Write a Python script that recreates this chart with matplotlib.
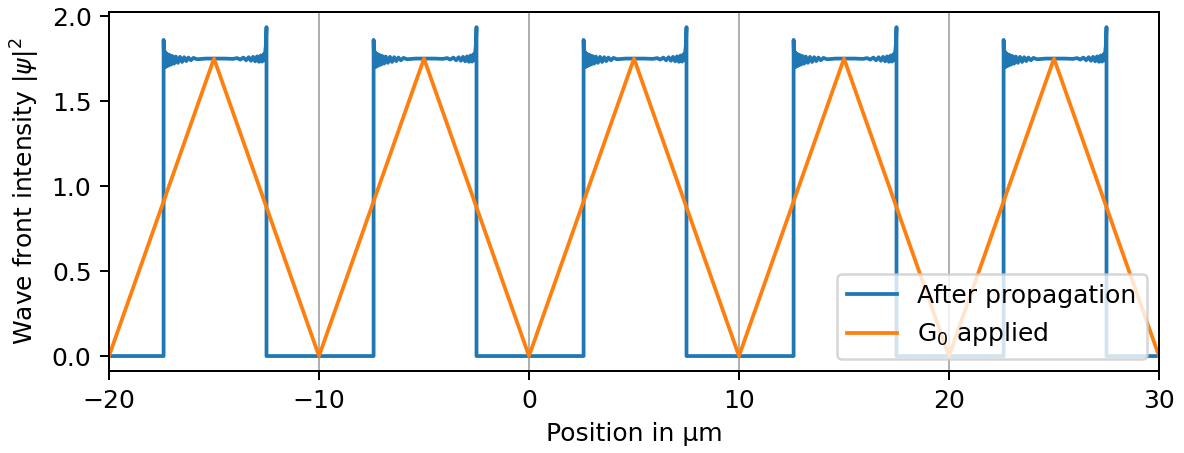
import numpy as np
import matplotlib
matplotlib.use("Agg")
import matplotlib.pyplot as plt

# grating edges (um) of the propagated intensity
rise_edges = [-17.4, -7.4, 2.6, 12.6, 22.6]
fall_edges = [-12.5, -2.5, 7.5, 17.5, 27.5]

# intensity profile near the rising edge (offsets from the edge), fast ringing
left_dx = [0.0, 0.0, 0.03, 0.06, 0.09, 0.12, 0.16, 0.20, 0.25, 0.30, 0.36, 0.42, 0.50, 0.58,
           0.68, 0.78, 0.88, 0.98, 1.08, 1.18, 1.30, 1.42, 1.60, 2.00]
left_y = [0.0, 1.86, 1.70, 1.79, 1.70, 1.78, 1.705, 1.775, 1.71, 1.77, 1.715, 1.765, 1.72, 1.762,
          1.725, 1.76, 1.73, 1.758, 1.735, 1.756, 1.74, 1.754, 1.746, 1.75]

# intensity profile near the falling edge (offsets from the edge)
right_dx = [-2.00, -1.60, -1.40, -1.25, -1.10, -0.97, -0.85, -0.74, -0.64, -0.54, -0.45, -0.36,
            -0.28, -0.21, -0.15, -0.10, -0.06, -0.03, 0.0, 0.0]
right_y = [1.75, 1.748, 1.753, 1.744, 1.756, 1.74, 1.758, 1.737, 1.76, 1.734, 1.763, 1.731,
           1.768, 1.732, 1.775, 1.74, 1.79, 1.83, 1.935, 0.0]

# triangular G0 profile
g0_x = [-20, -15, -10, -5, 0, 5, 10, 15, 20, 25, 30]
g0_y = [0, 1.75, 0, 1.75, 0, 1.75, 0, 1.75, 0, 1.75, 0]

xs = [-20.0]
ys = [0.0]
for r, f in zip(rise_edges, fall_edges):
    xs += [r + d for d in left_dx] + [f + d for d in right_dx]
    ys += left_y + right_y
xs.append(30.0)
ys.append(0.0)

dpi = 180
fig = plt.figure(figsize=(1184 / dpi, 453 / dpi), dpi=dpi)
ax = fig.add_axes([109 / 1184, 1 - 371 / 453, 1050 / 1184, 359 / 453])

ax.plot(xs, ys, color="tab:blue", lw=1.5, label="After propagation")
ax.plot(g0_x, g0_y, color="tab:orange", lw=1.5, label="G$_0$ applied")

ax.set_xlim(-20, 30)
ax.set_ylim(-0.088, 2.024)
ax.set_yticks([0.0, 0.5, 1.0, 1.5, 2.0])
ax.grid(axis="x")
ax.set_xlabel("Position in µm")
ax.set_ylabel(r"Wave front intensity $|\psi|^2$")
ax.legend(loc="lower right")

fig.savefig("out.png", dpi=dpi)
